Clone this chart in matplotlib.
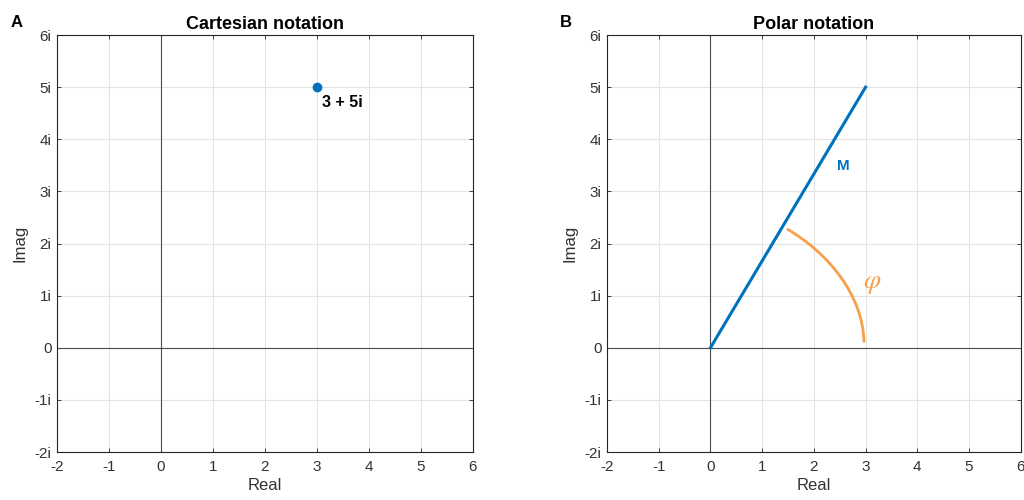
import numpy as np
import matplotlib
matplotlib.use('Agg')
import matplotlib.pyplot as plt
from matplotlib.path import Path
from matplotlib.patches import PathPatch

plt.rcParams['font.family'] = ['Liberation Sans', 'DejaVu Sans']
plt.rcParams['axes.unicode_minus'] = False
plt.rcParams['mathtext.fontset'] = 'stix'

# data
xticks = [-2, -1, 0, 1, 2, 3, 4, 5, 6]
yticks = [-2, -1, 0, 1, 2, 3, 4, 5, 6]
ytick_labels = ['-2i', '-1i', '0', '1i', '2i', '3i', '4i', '5i', '6i']
z_real = 3
z_imag = 5
z_label = '3 + 5i'
# arc for phi (start, two control points, end of a cubic curve)
arc_x = [1.48, 2.30, 2.95, 2.97]
arc_y = [2.28, 1.80, 1.00, 0.10]

blue = '#0072BD'
orange = '#F7A04B'
axcol = '#262626'

fig = plt.figure(figsize=(10.24, 5.0), dpi=100)
ax1 = fig.add_axes([0.0557, 0.096, 0.406, 0.834])
ax2 = fig.add_axes([0.5928, 0.096, 0.404, 0.834])

def style(ax, title):
    ax.set_xlim(-2, 6)
    ax.set_ylim(-2, 6)
    ax.set_xticks(xticks)
    ax.set_yticks(yticks)
    ax.set_yticklabels(ytick_labels)
    ax.grid(True, color='#e3e3e3', linewidth=0.8)
    ax.set_axisbelow(True)
    ax.axhline(0, color='#4d4d4d', linewidth=0.8, zorder=1)
    ax.axvline(0, color='#4d4d4d', linewidth=0.8, zorder=1)
    for s in ax.spines.values():
        s.set_color(axcol)
        s.set_linewidth(0.8)
    ax.tick_params(direction='in', length=3, width=0.6, colors=axcol,
                   labelsize=11, labelcolor='#333333', top=True, right=True)
    ax.tick_params(axis='x', pad=6)
    ax.tick_params(axis='y', pad=4)
    ax.set_xlabel('Real', fontsize=12, color='#333333', labelpad=3)
    ax.set_ylabel('Imag', fontsize=12, color='#333333', labelpad=5)
    ax.set_title(title, fontsize=13, fontweight='bold', pad=4)

style(ax1, 'Cartesian notation')
ax1.plot([z_real], [z_imag], 'o', color=blue, markersize=6, zorder=3)
ax1.text(z_real + 0.1, z_imag - 0.3, z_label, fontsize=11.5, fontweight='bold',
         ha='left', va='center')

style(ax2, 'Polar notation')
ax2.plot([0, z_real], [0, z_imag], color=blue, linewidth=2.2, zorder=3)
ax2.text(2.57, 3.49, 'M', color=blue, fontsize=11, fontweight='bold',
         ha='center', va='center')
verts = list(zip(arc_x, arc_y))
codes = [Path.MOVETO, Path.CURVE4, Path.CURVE4, Path.CURVE4]
ax2.add_patch(PathPatch(Path(verts, codes), facecolor='none', edgecolor=orange,
                        linewidth=2, zorder=3))
ax2.text(3.13, 1.25, r'$\varphi$', color=orange, fontsize=20,
         ha='center', va='center')

fig.text(0.010, 0.955, 'A', fontsize=12, fontweight='bold', va='center')
fig.text(0.547, 0.955, 'B', fontsize=12, fontweight='bold', va='center')

fig.savefig('out.png', dpi=100)
